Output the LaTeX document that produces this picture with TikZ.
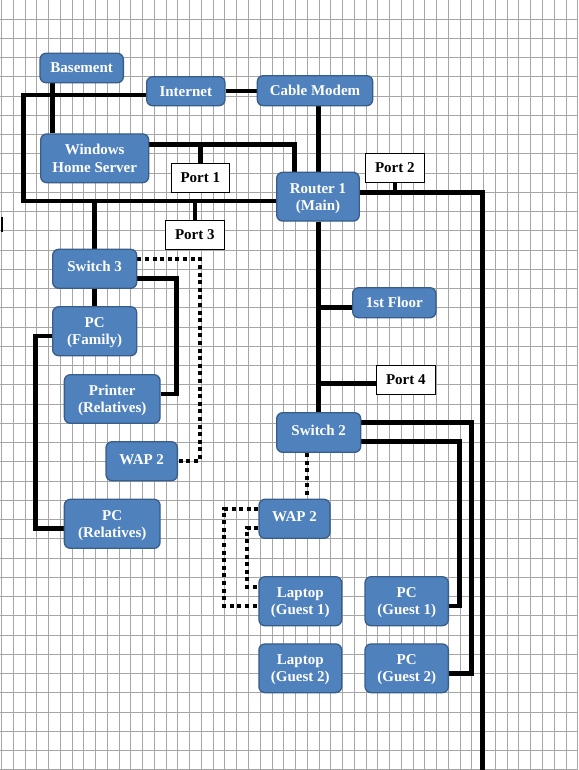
\documentclass[tikz,border=0pt]{standalone}
\usepackage{fontspec}
\setmainfont{Liberation Serif}
\usetikzlibrary{backgrounds}
\definecolor{boxblue}{HTML}{4F81BD}
\definecolor{boxedge}{HTML}{385D8A}
\definecolor{gridgray}{HTML}{A6A6A6}
\tikzset{
  bluebox/.style={draw=boxedge, fill=boxblue, line width=1.3pt, rounded corners=6pt,
    text=white, font=\bfseries\fontsize{15}{17.3}\selectfont, align=center, inner sep=0pt,
    text depth=-1pt},
  portbox/.style={draw=black, fill=white, line width=0.8pt,
    text=black, font=\bfseries\fontsize{15}{17.3}\selectfont, align=center, inner sep=0pt},
  wire/.style={line width=4.5pt, black},
  wdot/.style={line width=4pt, black, dash pattern=on 4pt off 3.6pt},
  gridline/.style={line width=0.9pt, gridgray}
}
\begin{document}
\begin{tikzpicture}[x=1pt,y=-1pt]
\useasboundingbox (0,0) rectangle (578,770);

% nodes
\node[bluebox, text depth=0pt, minimum width=83.3pt, minimum height=29.4pt] (basement) at (81.7,68) {Basement};
\node[bluebox, text depth=0pt, minimum width=78.3pt, minimum height=29pt] (internet) at (185.8,91.2) {Internet};
\node[bluebox, text depth=0pt, minimum width=115.4pt, minimum height=30pt] (cable) at (315,90.7) {Cable Modem};
\node[bluebox, text depth=0pt, minimum width=108pt, minimum height=48.7pt] (whs) at (94.7,158.3) {Windows\\Home Server};
\node[portbox, minimum width=58.7pt, minimum height=29pt] (port1) at (200.3,177.8) {Port 1};
\node[bluebox, minimum width=82.6pt, minimum height=48.7pt] (router) at (318,196.7) {Router 1\\(Main)};
\node[portbox, minimum width=59pt, minimum height=29pt] (port2) at (394.8,167.8) {Port 2};
\node[portbox, minimum width=59pt, minimum height=29pt] (port3) at (194.8,234.8) {Port 3};
\node[bluebox, text depth=0pt, minimum width=84pt, minimum height=39pt] (switch3) at (94.7,268.8) {\raisebox{4.5pt}{Switch 3}};
\node[bluebox, minimum width=84pt, minimum height=49pt] (pcfam) at (94.7,331.2) {PC\\(Family)};
\node[bluebox, minimum width=95.7pt, minimum height=48.6pt] (printer) at (112.2,399) {Printer\\(Relatives)};
\node[bluebox, text depth=0pt, minimum width=71.3pt, minimum height=39pt] (wapL) at (141.7,461.2) {\raisebox{3pt}{WAP 2}};
\node[bluebox, minimum width=95.7pt, minimum height=49pt] (pcrel) at (112.2,523.8) {PC\\(Relatives)};
\node[bluebox, text depth=0pt, minimum width=83.3pt, minimum height=30pt] (floor1) at (394.3,302.7) {1st Floor};
\node[portbox, minimum width=59.7pt, minimum height=29.3pt] (port4) at (405.8,379.7) {Port 4};
\node[bluebox, text depth=0pt, minimum width=84pt, minimum height=39.6pt] (switch2) at (318.7,432.5) {\raisebox{4.5pt}{Switch 2}};
\node[bluebox, text depth=0pt, minimum width=71pt, minimum height=39pt] (wapR) at (294.5,518.8) {\raisebox{4.5pt}{WAP 2}};
\node[bluebox, minimum width=82.7pt, minimum height=49pt] (lap1) at (300.3,601.2) {Laptop\\(Guest 1)};
\node[bluebox, minimum width=83.3pt, minimum height=49pt] (pcg1) at (406.7,601.2) {PC\\(Guest 1)};
\node[bluebox, minimum width=82.7pt, minimum height=48.7pt] (lap2) at (300.3,668.3) {Laptop\\(Guest 2)};
\node[bluebox, minimum width=83.3pt, minimum height=48.7pt] (pcg2) at (406.7,668.3) {PC\\(Guest 2)};

% junction coordinates
\coordinate (xb) at (52.3,0);
\coordinate (loopL) at (23.3,95);
\coordinate (loopB) at (23.3,201);
\coordinate (wr) at (294.5,144.3);
\coordinate (rr) at (482.7,192.3);
\coordinate (rEnd) at (482.7,770);
\coordinate (f1) at (318.3,307.3);
\coordinate (p4) at (318.3,383.3);
\coordinate (s3a) at (176.7,278.3);
\coordinate (s3b) at (176.7,394);
\coordinate (s3c) at (200,259.3);
\coordinate (s3d) at (200,460.7);
\coordinate (pf1) at (35.7,336);
\coordinate (pf2) at (35.7,528.3);
\coordinate (g2a) at (471.7,422.7);
\coordinate (g2b) at (471.7,673.3);
\coordinate (g1a) at (459.3,441.7);
\coordinate (g1b) at (459.3,606);
\coordinate (d1) at (306.7,0);
\coordinate (wo1) at (224,509);
\coordinate (wo2) at (224,605.7);
\coordinate (wi1) at (247.3,527.7);
\coordinate (wi2) at (247.3,587.3);
\coordinate (tickA) at (1.8,216.7);
\coordinate (tickB) at (1.8,231.7);

\begin{scope}[on background layer]
  \fill[white] (0,0) rectangle (578,770);
  \foreach \k in {0,...,49} \draw[gridline] ({1.5+11.76*\k},0) -- ({1.5+11.76*\k},770);
  \foreach \k in {0,...,39} \draw[gridline] (0,{19+19.25*\k}) -- (578,{19+19.25*\k});

  \draw[wire] (basement.south -| xb) -- (whs.north -| xb);
  \draw[wire] (internet.east) -- (internet.east -| cable.west);
  \draw[wire] (internet.west |- loopL) -- (loopL) -- (loopB) -- (router.west |- loopB);
  \draw[wire] (port3.north) -- (port3.north |- loopB);
  \draw[wire] (switch3.north) -- (switch3.north |- loopB);
  \draw[wire] (whs.east |- wr) -- (wr) -- (wr |- router.north);
  \draw[wire] (port1.north) -- (port1.north |- wr);
  \draw[wire] (f1 |- cable.south) -- (f1 |- router.north);
  \draw[wire] (router.east |- rr) -- (rr) -- (rEnd);
  \draw[wire] (port2.south) -- (port2.south |- rr);
  \draw[wire] (f1 |- router.south) -- (f1 |- switch2.north);
  \draw[wire] (floor1.west |- f1) -- (f1);
  \draw[wire] (port4.west |- p4) -- (p4);
  \draw[wire] (switch3.south) -- (pcfam.north);
  \draw[wire] (switch3.east |- s3a) -- (s3a) -- (s3b) -- (printer.east |- s3b);
  \draw[wdot] (switch3.east |- s3c) -- (s3c) -- (s3d) -- (wapL.east |- s3d);
  \draw[wire] (pcfam.west |- pf1) -- (pf1) -- (pf2) -- (pcrel.west |- pf2);
  \draw[wire] (switch2.east |- g2a) -- (g2a) -- (g2b) -- (pcg2.east |- g2b);
  \draw[wire] (switch2.east |- g1a) -- (g1a) -- (g1b) -- (pcg1.east |- g1b);
  \draw[wdot] (switch2.south -| d1) -- (wapR.north -| d1);
  \draw[wdot] (wapR.west |- wo1) -- (wo1) -- (wo2) -- (lap1.west |- wo2);
  \draw[wdot] (wapR.west |- wi1) -- (wi1) -- (wi2) -- (lap1.west |- wi2);
  \draw[line width=1.6pt] (tickA) -- (tickB);
\end{scope}
\end{tikzpicture}
\end{document}
